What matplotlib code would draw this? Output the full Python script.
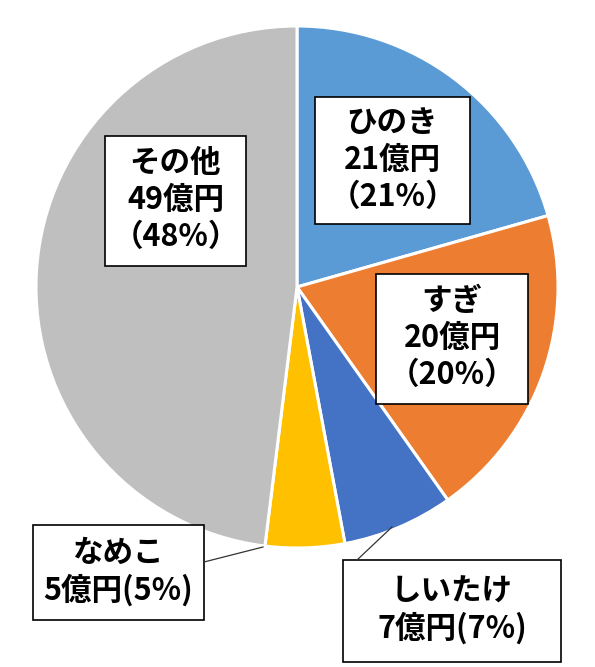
import matplotlib
matplotlib.use("Agg")
import matplotlib.pyplot as plt
from matplotlib.patches import Rectangle

plt.rcParams["font.family"] = ["Noto Sans CJK JP", "DejaVu Sans"]

# data (億円), order clockwise from 12 o'clock
names = ["ひのき", "すぎ", "しいたけ", "なめこ", "その他"]
values = [21, 20, 7, 5, 49]
colors = ["#5B9BD5", "#ED7D31", "#4472C4", "#FFC000", "#BFBFBF"]

W, H = 595, 667
fig = plt.figure(figsize=(W / 100, H / 100), dpi=100)

# pie placement in pixels
cx, cy, r = 297, 287, 261
ax = fig.add_axes([(cx - r) / W, (H - cy - r) / H, 2 * r / W, 2 * r / H])
ax.pie(values, colors=colors, startangle=90, counterclock=False,
       wedgeprops=dict(edgecolor="white", linewidth=2.2))
ax.set_xlim(-1, 1)
ax.set_ylim(-1, 1)
ax.set_aspect("equal")
ax.axis("off")

total = sum(values)
pcts = [round(v / total * 100) for v in values]

# label boxes (left, top, right, bottom in pixels)
boxes = {
    "ひのき": (315, 97, 470, 224),
    "すぎ": (376, 274, 528, 404),
    "しいたけ": (343, 560, 561, 662),
    "なめこ": (33, 525, 204, 620),
    "その他": (105, 136, 246, 266),
}
leaders = {
    "しいたけ": ((357, 560), (392, 527)),
    "なめこ": ((204, 562), (263, 547)),
}


def fx(x):
    return x / W


def fy(y):
    return 1 - y / H


for name, v, p in zip(names, values, pcts):
    x0, y0, x1, y1 = boxes[name]
    fig.add_artist(Rectangle((fx(x0), fy(y1)), fx(x1 - x0), (y1 - y0) / H,
                             transform=fig.transFigure, facecolor="white",
                             edgecolor="black", linewidth=1.2))
    if name in ("しいたけ", "なめこ"):
        text = f"{name}\n{v}億円({p}%)"
    else:
        text = f"{name}\n{v}億円\n（{p}%）"
    fig.text(fx((x0 + x1) / 2), fy((y0 + y1) / 2 - 1), text, ha="center",
             va="center", fontsize=22, fontweight="bold", linespacing=1.2)
    if name in leaders:
        (ax_, ay_), (bx_, by_) = leaders[name]
        fig.add_artist(plt.Line2D([fx(ax_), fx(bx_)], [fy(ay_), fy(by_)],
                                  transform=fig.transFigure, color="#333333",
                                  linewidth=0.9))

fig.savefig("out.png", dpi=100)
